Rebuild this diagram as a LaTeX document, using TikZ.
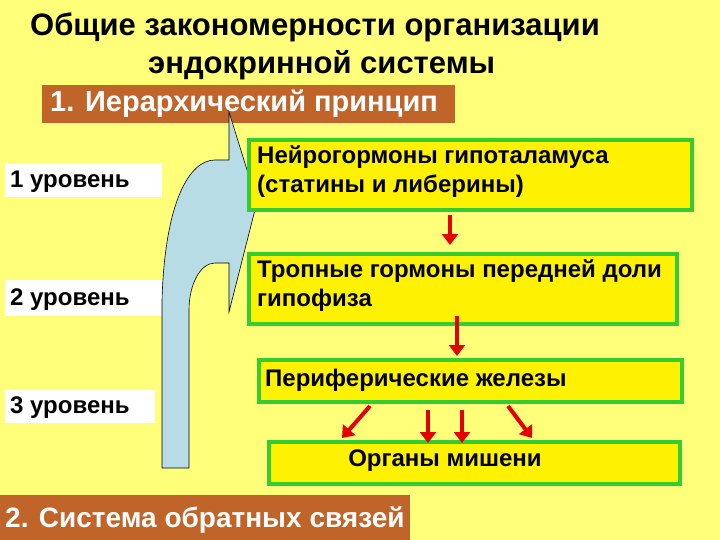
\documentclass[tikz,border=0pt]{standalone}
\usepackage{fontspec}
\setmainfont{Liberation Sans}
\usetikzlibrary{arrows.meta}
\definecolor{bg}{HTML}{FFFF7A}
\definecolor{gr}{HTML}{33CC33}
\definecolor{br}{HTML}{C0642A}
\definecolor{sky}{HTML}{B8DCE6}
\begin{document}
\begin{tikzpicture}[x=1pt,y=-1pt,
  gbox/.style={draw=gr, line width=4pt, fill=yellow, inner sep=0pt, anchor=north west},
  bbox/.style={fill=br, inner sep=0pt, anchor=north west},
  wbox/.style={fill=white, inner sep=0pt, anchor=north west},
  txt/.style={font=\bfseries\fontsize{24}{29}\selectfont, align=left, anchor=north west, inner sep=0pt},
  lvl/.style={anchor=west, font=\bfseries\fontsize{24}{26}\selectfont, inner sep=0pt},
  rarr/.style={draw=red!90!black, line width=4pt, -{Triangle[length=11pt,width=16pt]}}]
\useasboundingbox (0,0) rectangle (720,540);
\fill[bg] (0,0) rectangle (720,540);
\node[font=\bfseries\fontsize{31}{38}\selectfont, anchor=west, inner sep=0pt] (title1) at (30,27) {Общие закономерности организации};
\node[font=\bfseries\fontsize{31}{38}\selectfont, anchor=west, inner sep=0pt] (title2) at (148,65) {эндокринной системы};
\node[bbox, minimum width=413pt, minimum height=38pt] (h1) at (42,85) {};
\node[anchor=west, text=white, font=\bfseries\fontsize{29}{30}\selectfont, inner sep=0pt] (h1t) at (50,104) {1. Иерархический принцип};
\node[wbox, minimum width=157pt, minimum height=34pt] (l1) at (5,163) {};
\node[lvl] (l1t) at (10,182) {1 уровень};
\node[wbox, minimum width=157pt, minimum height=36pt] (l2) at (5,280) {};
\node[lvl] (l2t) at (10,300) {2 уровень};
\node[wbox, minimum width=150pt, minimum height=33pt] (l3) at (5,390) {};
\node[lvl] (l3t) at (10,408) {3 уровень};
\fill[sky, draw=black, line width=0.6pt]
 (162,468) -- (162,300) .. controls (165,200) and (190,160) .. (215,160) -- (229,160) -- (229,112) -- (257,202) -- (229,312) -- (229,263) -- (215,263) .. controls (200,263) and (189,285) .. (189,310) -- (189,468) -- cycle;
\node[gbox, minimum width=443pt, minimum height=70pt] (b1) at (247,138) {};
\node[txt] (b1t) at (257,145) {Нейрогормоны гипоталамуса\\(статины и либерины)};
\node[gbox, minimum width=428pt, minimum height=70pt] (b2) at (247,252) {};
\node[txt] (b2t) at (257,259) {Тропные гормоны передней доли\\гипофиза};
\node[gbox, minimum width=423pt, minimum height=42pt] (b3) at (257,358) {};
\node[txt, anchor=west] (b3t) at (265,380) {Периферические железы};
\node[gbox, minimum width=411pt, minimum height=42pt] (b4) at (267,440) {};
\node[font=\bfseries\fontsize{24}{26}\selectfont] (b4t) at (445,461) {Органы мишени};
\node[bbox, minimum width=410pt, minimum height=45pt] (h2) at (0,495) {};
\node[anchor=west, text=white, font=\bfseries\fontsize{28}{30}\selectfont, inner sep=0pt] (h2t) at (5,520) {2. Система обратных связей};
\coordinate (a1s) at (450,215); \coordinate (a1e) at (450,245);
\coordinate (a2s) at (457,316); \coordinate (a2e) at (457,356);
\draw[rarr] (a1s) -- (a1e);
\draw[rarr] (a2s) -- (a2e);
\draw[rarr] (b3.south west) ++(113,2) -- ++(-28,32);
\draw[rarr] (b3.south west) ++(171,6) -- ++(0,33);
\draw[rarr] (b3.south west) ++(205,6) -- ++(0,33);
\draw[rarr] (b3.south west) ++(251,2) -- ++(24,32);
\end{tikzpicture}
\end{document}
